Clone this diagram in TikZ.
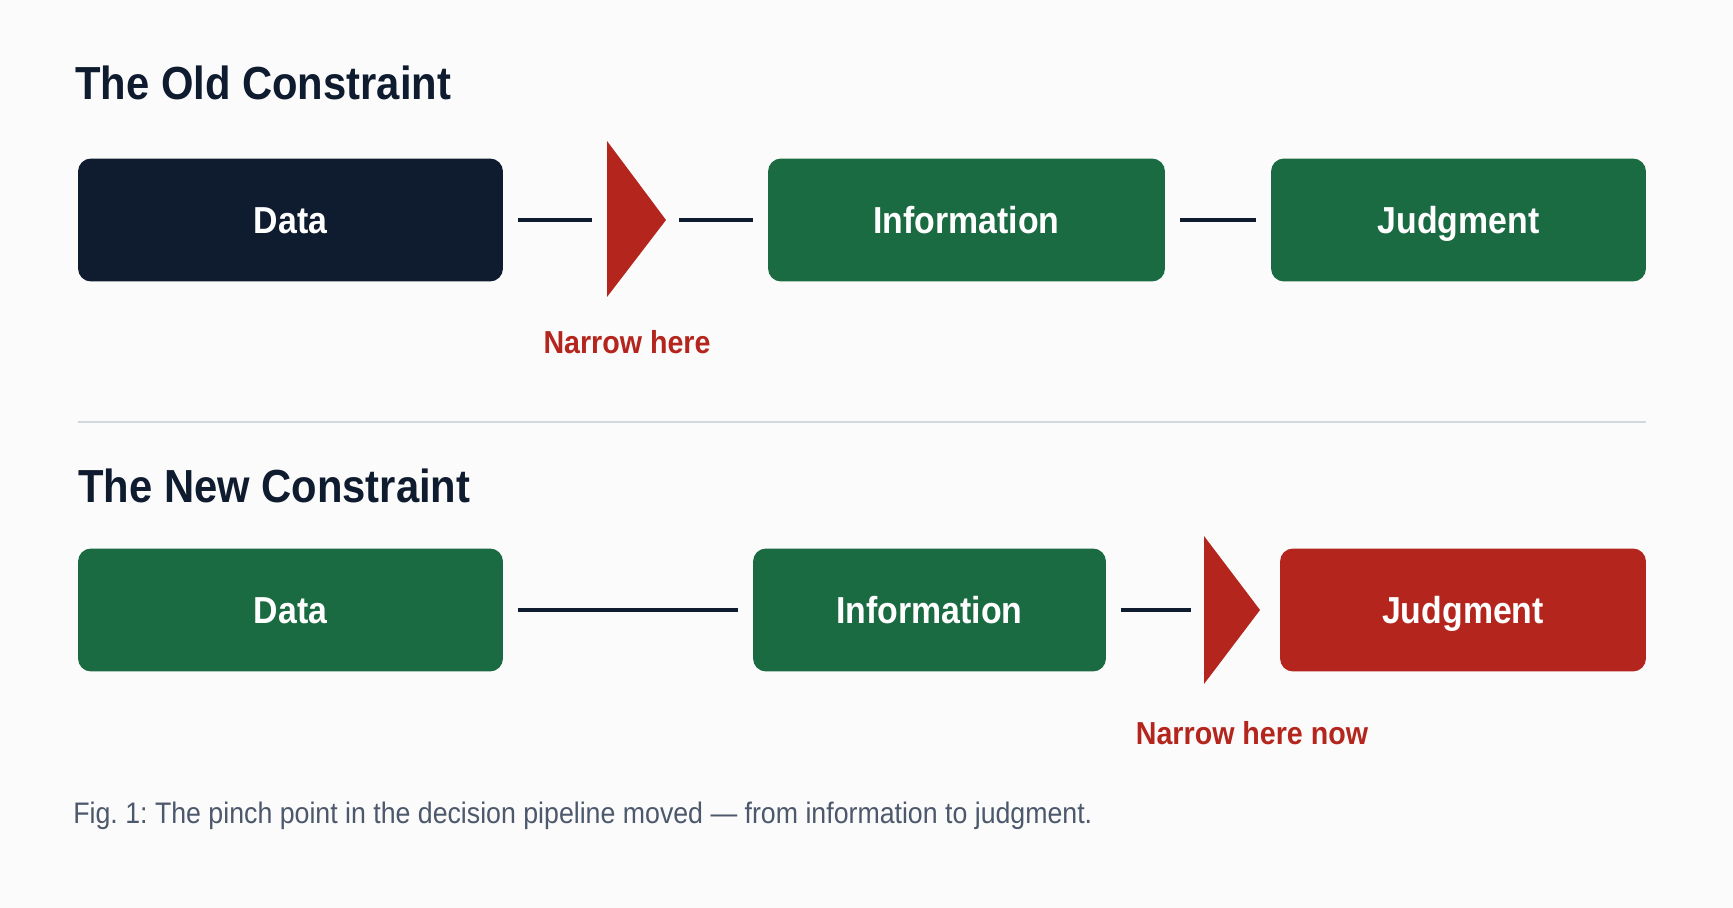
\documentclass[tikz,border=0pt]{standalone}
\usepackage{fontspec}
\setmainfont{Liberation Sans}[FakeStretch=0.9]
\usetikzlibrary{positioning}

\definecolor{navy}{HTML}{0F1B2E}
\definecolor{okgreen}{HTML}{1B6B42}
\definecolor{pinchred}{HTML}{B4261D}
\definecolor{capgray}{HTML}{4C586B}
\definecolor{rulegray}{HTML}{D3D8E0}
\definecolor{paper}{HTML}{FBFBFB}

\begin{document}
\begin{tikzpicture}[x=0.02cm,y=-0.02cm, %% one unit = one pixel of the 1733x908 page
    stage/.style={rectangle, rounded corners=7.4pt, text=white,
      font=\fontsize{21.4}{24}\selectfont\bfseries, minimum height=2.46cm,
      text height=15.3pt, text depth=0pt},
    link/.style={navy, line width=2.4pt, shorten <=8.5pt, shorten >=8.5pt},
    heading/.style={anchor=base west, text=navy, inner sep=0pt,
      font=\fontsize{26.4}{30}\selectfont\bfseries},
    pinch/.style={text=pinchred, font=\fontsize{18.1}{21}\selectfont\bfseries}]
    \fill[paper] (0,0) rectangle (1733,908);%

    %% old constraint
    \node[heading] (oldtitle) at (75,100) {The Old Constraint};%
    \node[stage, fill=navy, minimum width=8.5cm] (data1) at (290.5,220) {Data};%
    \node[stage, fill=okgreen, minimum width=7.94cm] (info1) at (966.5,220) {Information};%
    \node[stage, fill=okgreen, minimum width=7.5cm] (judg1) at (1458.5,220) {Judgment};%
    \fill[pinchred] (607,141) -- (666,220) -- (607,297) -- cycle;%
    \coordinate (tri1in) at (607,220);%
    \coordinate (tri1out) at (666,220);%
    \draw[link] (data1) -- (tri1in);%
    \draw[link, shorten <=7.4pt] (tri1out) -- (info1);%
    \draw[link] (info1) -- (judg1);%
    \node[pinch] (narrow1) at (627,342) {Narrow here};%

    \draw[rulegray, line width=1.2pt] (78,422) -- (1646,422);%

    %% new constraint
    \node[heading] (newtitle) at (78,502) {The New Constraint};%
    \node[stage, fill=okgreen, minimum width=8.5cm] (data2) at (290.5,610) {Data};%
    \node[stage, fill=okgreen, minimum width=7.06cm] (info2) at (929.5,610) {Information};%
    \node[stage, fill=pinchred, minimum width=7.32cm] (judg2) at (1463,610) {Judgment};%
    \fill[pinchred] (1204,536) -- (1260,610) -- (1204,684) -- cycle;%
    \coordinate (tri2in) at (1204,610);%
    \draw[link] (data2) -- (info2);%
    \draw[link, shorten >=7.4pt] (info2) -- (tri2in);%
    \node[pinch] (narrow2) at (1252,733) {Narrow here now};%

    \node[anchor=base west, inner sep=0pt, text=capgray,
      font=\fontsize{16.9}{20}\selectfont\frenchspacing] (caption) at (73,823)
    {Fig.~1: The pinch point in the decision pipeline moved --- from information to judgment.};
  \end{tikzpicture}
\end{document}
